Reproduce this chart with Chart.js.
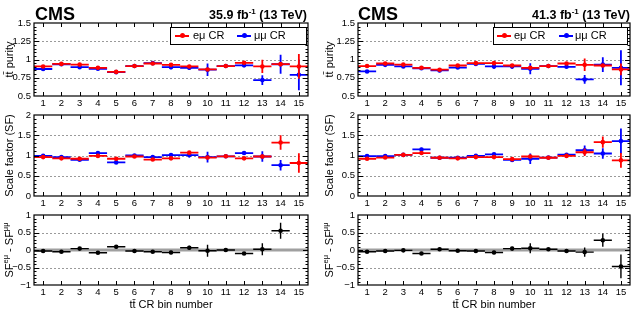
<!DOCTYPE html>
<html>
<head>
<meta charset="utf-8">
<script src="https://cdn.jsdelivr.net/npm/chart.js"></script>
<style>
  body { margin: 0; background: #fff; font-family: "Liberation Sans", Arial, sans-serif; }
  #wrap { position: relative; width: 633px; height: 316px; overflow: hidden; }
  canvas { position: absolute; top: 0; }
  .cms { position: absolute; font-weight: bold; font-size: 18px; top: 4px; }
  .lumi { position: absolute; font-weight: bold; font-size: 12.5px; top: 7px; text-align: right; width: 140px; }
  .lumi sup { font-size: 8px; }
  .legend { position: absolute; top: 27px; height: 16px; border: 1px solid #000; background: #fff; font-size: 11px; }
  .legend .ln { position: absolute; top: 7px; width: 14px; height: 2px; }
  .legend .dot { position: absolute; top: 5px; width: 5px; height: 5px; border-radius: 50%; }
  .legend .tx { position: absolute; top: 1px; }
</style>
</head>
<body>
<div id="wrap">
  <canvas id="p1a" width="316" height="316" style="left:0"></canvas>
  <canvas id="p2a" width="316" height="316" style="left:0"></canvas>
  <canvas id="p3a" width="316" height="316" style="left:0"></canvas>
  <canvas id="p1b" width="313" height="316" style="left:320px"></canvas>
  <canvas id="p2b" width="313" height="316" style="left:320px"></canvas>
  <canvas id="p3b" width="313" height="316" style="left:320px"></canvas>

  <div class="cms" style="left:35px">CMS</div>
  <div class="lumi" style="left:167px">35.9 fb<sup>-1</sup> (13 TeV)</div>
  <div class="cms" style="left:358px">CMS</div>
  <div class="lumi" style="left:490px">41.3 fb<sup>-1</sup> (13 TeV)</div>

  <div class="legend" style="left:170px;width:135px">
    <div class="ln" style="left:4px;background:#f00"></div><div class="dot" style="left:8.5px;background:#f00"></div>
    <div class="tx" style="left:22px">eμ CR</div>
    <div class="ln" style="left:66px;background:#00f"></div><div class="dot" style="left:70.5px;background:#00f"></div>
    <div class="tx" style="left:83px">μμ CR</div>
  </div>
  <div class="legend" style="left:493px;width:133px">
    <div class="ln" style="left:3px;background:#f00"></div><div class="dot" style="left:7.5px;background:#f00"></div>
    <div class="tx" style="left:20px">eμ CR</div>
    <div class="ln" style="left:65px;background:#00f"></div><div class="dot" style="left:69.5px;background:#00f"></div>
    <div class="tx" style="left:81px">μμ CR</div>
  </div>
</div>

<script>
// tt CR bins
const bins = [1, 2, 3, 4, 5, 6, 7, 8, 9, 10, 11, 12, 13, 14, 15];

// 2016 (35.9 fb-1)
const purityEm2016 = [0.905, 0.94, 0.93, 0.886, 0.83, 0.91, 0.945, 0.927, 0.905, 0.864, 0.91, 0.955, 0.905, 0.936, 0.905];
const purityEmErr2016 = [0.015, 0.015, 0.015, 0.015, 0.015, 0.012, 0.012, 0.015, 0.015, 0.02, 0.012, 0.015, 0.09, 0.03, 0.17];
const purityMm2016 = [0.87, 0.935, 0.895, 0.873, 0.827, 0.91, 0.95, 0.895, 0.886, 0.86, 0.91, 0.92, 0.718, 0.935, 0.79];
const purityMmErr2016 = [0.02, 0.015, 0.02, 0.02, 0.025, 0.015, 0.015, 0.03, 0.03, 0.085, 0.02, 0.02, 0.066, 0.13, 0.21];

const sfEm2016 = [0.96, 0.93, 0.92, 0.99, 0.92, 0.975, 0.9, 0.93, 1.07, 0.95, 0.98, 0.93, 0.975, 1.32, 0.815];
const sfEmErr2016 = [0.03, 0.03, 0.03, 0.03, 0.03, 0.03, 0.03, 0.03, 0.04, 0.04, 0.03, 0.03, 0.05, 0.18, 0.24];
const sfMm2016 = [0.99, 0.96, 0.895, 1.06, 0.83, 1.0, 0.96, 1.01, 1.01, 0.96, 0.98, 1.06, 0.975, 0.76, null];
const sfMmErr2016 = [0.03, 0.03, 0.03, 0.04, 0.04, 0.03, 0.03, 0.05, 0.06, 0.13, 0.03, 0.03, 0.13, 0.13, null];

const diff2016 = [-0.03, -0.05, 0.04, -0.08, 0.095, -0.03, -0.05, -0.07, 0.065, -0.02, 0, -0.1, 0.02, 0.55, null];
const diffErr2016 = [0.03, 0.03, 0.03, 0.04, 0.05, 0.03, 0.03, 0.05, 0.06, 0.17, 0.03, 0.03, 0.17, 0.23, null];

// 2017 (41.3 fb-1)
const purityEm2017 = [0.91, 0.945, 0.93, 0.886, 0.86, 0.918, 0.95, 0.95, 0.918, 0.886, 0.91, 0.945, 0.927, 0.918, 0.864];
const purityEmErr2017 = [0.015, 0.015, 0.015, 0.015, 0.015, 0.015, 0.012, 0.015, 0.015, 0.02, 0.012, 0.015, 0.086, 0.02, 0.08];
const purityMm2017 = [0.836, 0.927, 0.905, 0.88, 0.85, 0.89, 0.94, 0.905, 0.905, 0.873, 0.91, 0.9, 0.727, 0.93, 0.886];
const purityMmErr2017 = [0.015, 0.02, 0.02, 0.02, 0.025, 0.02, 0.015, 0.03, 0.03, 0.075, 0.02, 0.02, 0.06, 0.1, 0.24];

const sfEm2017 = [0.92, 0.95, 1.015, 1.06, 0.945, 0.93, 0.96, 0.96, 0.91, 0.975, 0.945, 0.99, 1.08, 1.33, 0.88];
const sfEmErr2017 = [0.03, 0.03, 0.03, 0.03, 0.03, 0.03, 0.03, 0.03, 0.03, 0.04, 0.03, 0.03, 0.09, 0.14, 0.18];
const sfMm2017 = [0.985, 0.985, 1.015, 1.15, 0.945, 0.945, 0.99, 1.03, 0.89, 0.92, 0.95, 1.02, 1.13, 1.05, 1.355];
const sfMmErr2017 = [0.03, 0.03, 0.03, 0.04, 0.04, 0.03, 0.03, 0.04, 0.05, 0.13, 0.03, 0.04, 0.12, 0.13, 0.31];

const diff2017 = [-0.05, -0.03, -0.01, -0.1, 0.02, -0.02, -0.03, -0.07, 0.04, 0.05, 0.02, -0.03, -0.06, 0.28, -0.47];
const diffErr2017 = [0.03, 0.03, 0.03, 0.04, 0.05, 0.03, 0.03, 0.05, 0.05, 0.14, 0.03, 0.04, 0.13, 0.19, 0.34];

// axis ticks
const purityTicks = [0.5, 0.75, 1, 1.25, 1.5];
const sfTicks = [0, 0.5, 1, 1.5, 2];
const diffTicks = [-1, -0.5, 0, 0.5, 1];

const FONT = '"Liberation Sans", Arial, sans-serif';

function ds(vals, errs, color) {
  return {
    data: bins.map((b, i) => ({ x: b, y: vals[i] })),
    errs: errs,
    color: color,
    backgroundColor: color,
    borderColor: color,
    pointRadius: 2.3,
    pointBorderWidth: 0,
    pointHoverRadius: 2.3,
    showLine: false
  };
}

// ROOT-like frame, inner ticks, grid and error bars
const rootStyle = {
  id: 'rootStyle',
  beforeDatasetsDraw(chart) {
    const { ctx, chartArea: a, scales: { x, y } } = chart;
    const o = chart.options.plugins.rootStyle;
    ctx.save();
    ctx.strokeStyle = '#9a9a9a';
    ctx.lineWidth = 1;
    ctx.setLineDash([2, 2]);
    o.grid.forEach(v => {
      const py = Math.round(y.getPixelForValue(v)) + 0.5;
      ctx.beginPath(); ctx.moveTo(a.left, py); ctx.lineTo(a.right, py); ctx.stroke();
    });
    ctx.setLineDash([]);
    if (o.zeroBand) {
      ctx.strokeStyle = '#a0a0a0';
      ctx.lineWidth = 3;
      const py = y.getPixelForValue(0);
      ctx.beginPath(); ctx.moveTo(a.left, py); ctx.lineTo(a.right, py); ctx.stroke();
    }
    ctx.restore();
  },
  beforeDatasetDraw(chart, args) {
    const { ctx, scales: { x, y } } = chart;
    const d = chart.data.datasets[args.index];
    ctx.save();
    ctx.strokeStyle = d.color;
    ctx.lineWidth = chart.options.plugins.rootStyle.lw;
    d.data.forEach((p, i) => {
      if (p.y == null) return;
      const py = y.getPixelForValue(p.y);
      const e = d.errs[i];
      ctx.beginPath();
      ctx.moveTo(x.getPixelForValue(p.x - 0.5), py);
      ctx.lineTo(x.getPixelForValue(p.x + 0.5), py);
      ctx.moveTo(x.getPixelForValue(p.x), y.getPixelForValue(p.y - e));
      ctx.lineTo(x.getPixelForValue(p.x), y.getPixelForValue(p.y + e));
      ctx.stroke();
    });
    ctx.restore();
  },
  afterDraw(chart) {
    const { ctx, chartArea: a, scales: { x, y } } = chart;
    const o = chart.options.plugins.rootStyle;
    ctx.save();
    ctx.strokeStyle = '#000';
    ctx.lineWidth = 1.2;
    ctx.strokeRect(a.left, a.top, a.right - a.left, a.bottom - a.top);
    ctx.lineWidth = 1;
    ctx.beginPath();
    bins.forEach(b => {
      const px = Math.round(x.getPixelForValue(b)) + 0.5;
      ctx.moveTo(px, a.bottom); ctx.lineTo(px, a.bottom - 4);
      ctx.moveTo(px, a.top); ctx.lineTo(px, a.top + 4);
    });
    const lo = y.min, hi = y.max;
    const n = Math.round((hi - lo) / o.minor);
    for (let k = 1; k < n; k++) {
      const v = lo + k * o.minor;
      const major = Math.abs(v / o.major - Math.round(v / o.major)) < 1e-6;
      const len = major ? 5 : 2.5;
      const py = Math.round(y.getPixelForValue(v)) + 0.5;
      ctx.moveTo(a.left, py); ctx.lineTo(a.left + len, py);
      ctx.moveTo(a.right, py); ctx.lineTo(a.right - len, py);
    }
    ctx.stroke();

    if (o.sfTitle) {
      const cy = (a.top + a.bottom) / 2;
      const big = '11px ' + FONT, small = '7.5px ' + FONT;
      const parts = [['SF', big, 0], ['eμ', small, -4], [' - SF', big, 0], ['μμ', small, -4]];
      let w = 0;
      parts.forEach(p => { ctx.font = p[1]; w += ctx.measureText(p[0]).width; });
      ctx.translate(9.6, cy);
      ctx.rotate(-Math.PI / 2);
      ctx.fillStyle = '#000';
      ctx.textBaseline = 'middle';
      let cx = -w / 2;
      parts.forEach(p => {
        ctx.font = p[1];
        ctx.fillText(p[0], cx, p[2]);
        cx += ctx.measureText(p[0]).width;
      });
    }
    ctx.restore();
  }
};

function panel(id, cfg) {
  return new Chart(document.getElementById(id), {
    type: 'scatter',
    data: { datasets: cfg.datasets },
    plugins: [rootStyle],
    options: {
      responsive: false,
      animation: false,
      events: [],
      layout: { padding: { top: cfg.top, bottom: cfg.bottom, left: 0, right: cfg.right } },
      plugins: {
        legend: { display: false },
        tooltip: { enabled: false },
        rootStyle: { grid: cfg.grid, major: cfg.major, minor: cfg.minor, lw: cfg.lw || 1.8,
                     zeroBand: !!cfg.zeroBand, sfTitle: !!cfg.sfTitle }
      },
      scales: {
        x: {
          type: 'linear', min: 0.5, max: 15.5,
          afterBuildTicks: s => { s.ticks = bins.map(v => ({ value: v })); },
          afterFit: s => { s.height = cfg.xh; },
          grid: { display: false, drawTicks: false },
          border: { display: false },
          ticks: { color: '#000', font: { family: FONT, size: 9.5 }, padding: 2, maxRotation: 0, autoSkip: false },
          title: cfg.xTitle ? { display: true, text: cfg.xTitle, color: '#000',
                                font: { family: FONT, size: 11 }, padding: { top: 0, bottom: 4 } } : { display: false }
        },
        y: {
          min: cfg.ticks[0], max: cfg.ticks[cfg.ticks.length - 1],
          afterBuildTicks: s => { s.ticks = cfg.ticks.map(v => ({ value: v })); },
          afterFit: s => { s.width = cfg.yw; },
          grid: { display: false, drawTicks: false },
          border: { display: false },
          ticks: { color: '#000', font: { family: FONT, size: 9.5 }, padding: 3,
                   callback: v => String(v).replace('-', '\u2212') },
          title: cfg.yTitle ? { display: true, text: cfg.yTitle, color: '#000',
                                font: { family: FONT, size: 11 }, padding: { top: 3, bottom: 0 } } : { display: false }
        }
      }
    }
  });
}

const cols = [
  { suf: 'a', yw: 34, right: 8,
    pe: purityEm2016, pee: purityEmErr2016, pm: purityMm2016, pme: purityMmErr2016,
    se: sfEm2016, see: sfEmErr2016, sm: sfMm2016, sme: sfMmErr2016, d: diff2016, de: diffErr2016 },
  { suf: 'b', yw: 38, right: 3,
    pe: purityEm2017, pee: purityEmErr2017, pm: purityMm2017, pme: purityMmErr2017,
    se: sfEm2017, see: sfEmErr2017, sm: sfMm2017, sme: sfMmErr2017, d: diff2017, de: diffErr2017 }
];

cols.forEach(c => {
  panel('p1' + c.suf, {
    datasets: [ds(c.pe, c.pee, '#ff0000'), ds(c.pm, c.pme, '#0000ff')],
    top: 23, bottom: 204, xh: 16, yw: c.yw, right: c.right,
    ticks: purityTicks, grid: [0.75, 1, 1.25], major: 0.25, minor: 0.05,
    yTitle: 'tt\u0304 purity'
  });
  panel('p2' + c.suf, {
    datasets: [ds(c.se, c.see, '#ff0000'), ds(c.sm, c.sme, '#0000ff')],
    top: 115, bottom: 106, xh: 14, yw: c.yw, right: c.right,
    ticks: sfTicks, grid: [0.5, 1, 1.5], major: 0.5, minor: 0.1,
    yTitle: 'Scale factor (SF)'
  });
  panel('p3' + c.suf, {
    datasets: [ds(c.d, c.de, '#000000')],
    top: 215, bottom: 0, xh: 31, yw: c.yw, right: c.right,
    ticks: diffTicks, grid: [-0.5, 0.5], major: 0.5, minor: 0.1, lw: 1.4,
    zeroBand: true, sfTitle: true, xTitle: 'tt\u0304 CR bin number'
  });
});
</script>
</body>
</html>
